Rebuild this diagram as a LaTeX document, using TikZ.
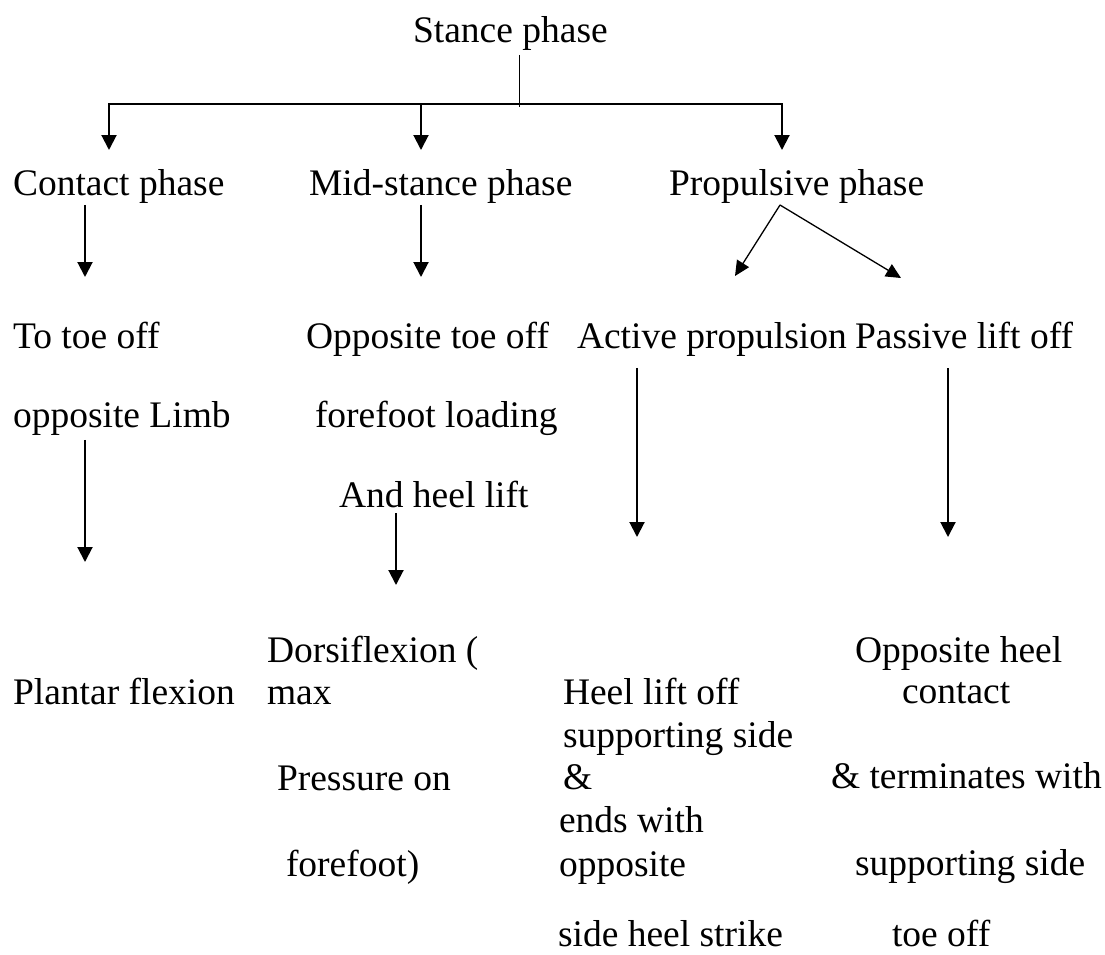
\documentclass[tikz,border=0pt]{standalone}
\usepackage{fontspec}
\setmainfont{Liberation Serif}
\usetikzlibrary{arrows.meta,calc}
\begin{document}
\begin{tikzpicture}[x=1pt,y=-1pt,
  lbl/.style={anchor=base west,inner sep=0pt,outer sep=0pt,
    font=\fontsize{37.5}{43}\selectfont},
  arr/.style={line width=2pt,-{Triangle[width=15pt,length=15pt]}},
  thinarr/.style={line width=1.3pt,-{Triangle[width=14pt,length=15pt]}},
  trunk/.style={line width=1pt},
  bar/.style={line width=2pt}]
\useasboundingbox (0,0) rectangle (1105,954);

% level 0
\node[lbl] (stance) at (413,42) {Stance phase};

% level 1
\node[lbl] (contact)  at (13,195)  {Contact phase};
\node[lbl] (midst)    at (309,195) {Mid-stance phase};
\node[lbl] (propul)   at (669,195) {Propulsive phase};

% level 2
\node[lbl] (toetoe)   at (13,348)  {To toe off};
\node[lbl] (opplimb)  at (13,427)  {opposite Limb};
\node[lbl] (opptoe)   at (306,348) {Opposite toe off};
\node[lbl] (fload)    at (315,427) {forefoot loading};
\node[lbl] (andheel)  at (339,507) {And heel lift};
\node[lbl] (active)   at (577,348) {Active propulsion};
\node[lbl] (passive)  at (855,348) {Passive lift off};

% level 3
\node[lbl] (plantar)  at (13,704)  {Plantar flexion};
\node[lbl] (dorsi)    at (267,662) {Dorsiflexion (};
\node[lbl] (dmax)     at (267,704) {max};
\node[lbl] (press)    at (277,790) {Pressure on};
\node[lbl] (ffoot)    at (286,876) {forefoot)};
\node[lbl] (heellift) at (563,704) {Heel lift off};
\node[lbl] (suppA)    at (563,747) {supporting side};
\node[lbl] (ampA)     at (563,789) {\&};
\node[lbl] (endsw)    at (559,832) {ends with};
\node[lbl] (oppA)     at (559,876) {opposite};
\node[lbl] (sidehs)   at (558,946) {side heel strike};
\node[lbl] (oppheel)  at (855,662) {Opposite heel};
\node[lbl] (hcontact) at (902,703) {contact};
\node[lbl] (termw)    at (831,788) {\& terminates with};
\node[lbl] (suppB)    at (855,875) {supporting side};
\node[lbl] (toeoff)   at (892,946) {toe off};

% branching of the stance phase
\coordinate (split) at (519,107);
\coordinate (barL) at (109,104);
\coordinate (barR) at (782,104);
\coordinate (tipC) at (109,150);
\coordinate (tipM) at (421,150);
\coordinate (tipP) at (782,150);
\draw[trunk] ($(stance.south -| split)+(0,5)$) -- (split);
\draw[bar] ([xshift=-1pt]barL) -- ([xshift=1pt]barR);
\draw[arr] (barL) -- (tipC);
\draw[arr] (barL -| tipM) -- (tipM);
\draw[arr] (barR) -- (tipP);

% arrows below the phases
\coordinate (t1) at (85,277);
\coordinate (t2) at (421,277);
\coordinate (apex) at (780,205);
\coordinate (t3) at (735,276);
\coordinate (t4) at (901,278);
\draw[arr] ($(contact.south -| t1)+(0,2)$) -- (t1);
\draw[arr] ($(midst.south -| t2)+(0,2)$) -- (t2);
\draw[thinarr] (apex) -- (t3);
\draw[thinarr] (apex) -- (t4);

% arrows below the second level
\coordinate (t5) at (85,562);
\coordinate (t6) at (396,585);
\coordinate (t7) at (637,537);
\coordinate (t8) at (948,537);
\draw[arr] ($(opplimb.south -| t5)+(0,5)$) -- (t5);
\draw[arr] ($(andheel.south -| t6)+(0,6)$) -- (t6);
\draw[arr] ($(active.south -| t7)+(0,12)$) -- (t7);
\draw[arr] ($(passive.south -| t8)+(0,20)$) -- (t8);
\end{tikzpicture}
\end{document}
